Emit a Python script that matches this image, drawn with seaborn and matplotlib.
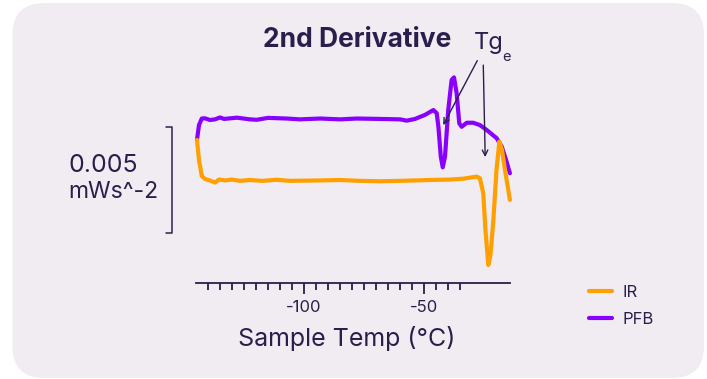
import numpy as np
import pandas as pd
import matplotlib
matplotlib.use("Agg")
import matplotlib.pyplot as plt
from matplotlib.patches import FancyBboxPatch
import seaborn as sns

# ---- data (temperature in °C, 2nd derivative in units of 1e-3 mWs^-2, traces offset) ----
ir_temp = [-144.6, -143.75, -142.6, -141.25, -139.2, -137.1, -135.4, -132.9, -130.0, -126.7,
           -122.5, -117.5, -111.4, -105.8, -93.3, -85.0, -76.7, -68.3, -60.0, -47.5,
           -39.2, -33.75, -28.0, -26.7, -25.3, -24.4, -23.2, -22.3, -21.1, -19.8,
           -18.6, -17.5, -16.25, -14.2]
ir_val = [1.89, 0.94, 0.19, 0.05, -0.02, -0.12, 0.02, -0.02, 0.02, -0.04,
          0.0, -0.04, 0.01, -0.04, -0.02, 0.0, -0.04, -0.06, -0.04, 0.0,
          0.02, 0.06, 0.16, 0.08, -0.63, -2.36, -4.01, -3.54, -1.89, 0.47,
          1.81, 1.42, 0.47, -0.94]

pfb_temp = [-144.6, -143.75, -142.6, -141.25, -139.2, -137.1, -135.0, -133.3, -128.0, -122.5,
            -119.7, -115.0, -107.2, -101.7, -93.3, -85.0, -78.0, -68.3, -60.0, -57.2,
            -53.75, -49.6, -46.1, -44.7, -44.0, -43.0, -42.2, -41.25, -39.9, -38.5,
            -37.5, -36.4, -35.3, -34.3, -32.2, -29.5, -26.7, -23.9, -19.7, -17.6,
            -15.8, -14.2]
pfb_val = [1.89, 2.59, 2.90, 2.91, 2.83, 2.86, 2.95, 2.88, 2.94, 2.86,
           2.84, 2.93, 2.90, 2.86, 2.90, 2.86, 2.90, 2.88, 2.86, 2.80,
           2.88, 3.07, 3.30, 3.15, 2.51, 1.10, 0.60, 1.10, 3.30, 4.72,
           4.84, 4.09, 2.67, 2.51, 2.70, 2.70, 2.59, 2.36, 1.97, 1.57,
           0.94, 0.32]

series_names = ["IR", "PFB"]
x_tick_major = [-100, -50]
x_tick_minor = list(range(-140, -34, 5))
scale_bar = 5.0  # 0.005 mWs^-2 expressed in 1e-3 units

ORANGE = "#FFA000"
PURPLE = "#8A00FF"
TEXT = "#2B1E4D"
BG = "#F0ECF2"

df = pd.concat([
    pd.DataFrame({"temp": ir_temp, "val": ir_val, "series": "IR"}),
    pd.DataFrame({"temp": pfb_temp, "val": pfb_val, "series": "PFB"}),
])

sns.set_theme(style="white")
plt.rcParams["font.family"] = ["Inter", "DejaVu Sans"]
plt.rcParams["axes.unicode_minus"] = False

W, H = 707, 379
fig = plt.figure(figsize=(W / 100, H / 100), dpi=100, facecolor="white")

def fx(px):
    return px / W

def fy(py):
    return 1 - py / H

bg = FancyBboxPatch((fx(12.5), fy(378)), fx(704) - fx(12.5), fy(3) - fy(378),
                    boxstyle="round,pad=0,rounding_size=0.045", transform=fig.transFigure,
                    facecolor=BG, edgecolor="none", zorder=-10, mutation_aspect=W / H)
fig.patches.append(bg)

x0, x1 = -145.0, -14.0
px_per_deg = 2.4
left_px = 196
right_px = left_px + (x1 - x0) * px_per_deg
top_px, bottom_px = 60, 283
ax = fig.add_axes([fx(left_px), fy(bottom_px), fx(right_px) - fx(left_px), fy(top_px) - fy(bottom_px)])
ax.set_facecolor("none")
ax.set_zorder(5)

palette = {"IR": ORANGE, "PFB": PURPLE}
sns.lineplot(data=df[df.series == "PFB"], x="temp", y="val", hue="series", palette=palette,
             linewidth=3.0, ax=ax, sort=False, legend=True)
sns.lineplot(data=df[df.series == "IR"], x="temp", y="val", hue="series", palette=palette,
             linewidth=3.0, ax=ax, sort=False, legend=True)
for ln in ax.lines:
    ln.set_solid_capstyle("round")
    ln.set_solid_joinstyle("round")
    ln.set_clip_on(False)

ax.set_xlim(x0, x1)
ax.set_ylim((180 - 283) * 0.04717, (180 - 60) * 0.04717)

for s in ["top", "right", "left"]:
    ax.spines[s].set_visible(False)
ax.spines["bottom"].set_color(TEXT)
ax.spines["bottom"].set_linewidth(1.3)
ax.set_yticks([])
ax.set_xticks(x_tick_major)
ax.set_xticklabels([str(v) for v in x_tick_major])
ax.set_xticks(x_tick_minor, minor=True)
ax.tick_params(axis="x", which="major", direction="out", length=8, width=1.3, color=TEXT,
               labelsize=12, labelcolor=TEXT, pad=4, bottom=True)
ax.tick_params(axis="x", which="minor", direction="out", length=5, width=1.3, color=TEXT, bottom=True)
ax.set_xlabel("Sample Temp (°C)", fontsize=18, color=TEXT)
ax.xaxis.set_label_coords(fx(347 - left_px) / fx(right_px - left_px), -0.195)
ax.set_ylabel("")

# scale bar
sb_x = -155.1
sb_tick = -157.5
ax.plot([sb_tick, sb_x, sb_x, sb_tick], [scale_bar / 2, scale_bar / 2, -scale_bar / 2, -scale_bar / 2],
        color=TEXT, lw=1.1, clip_on=False)
fig.text(fx(68), fy(166), "0.005", fontsize=18, color=TEXT, ha="left", va="center")
fig.text(fx(68), fy(192), "mWs^-2", fontsize=16.5, color=TEXT, ha="left", va="center")

# title and annotation
fig.text(fx(357.5), fy(40), "2nd Derivative", fontsize=19, fontweight="bold", color=TEXT,
         ha="center", va="center")
fig.text(fx(474), fy(43), "Tg", fontsize=17, color=TEXT, ha="left", va="center")
fig.text(fx(502), fy(57), "e", fontsize=10.5, color=TEXT, ha="left", va="center")

arrow_kw = dict(arrowstyle="->", color=TEXT, lw=1.0, mutation_scale=10, shrinkA=0, shrinkB=0)
ax.annotate("", xy=(-42.0, 2.59), xytext=(-27.8, 5.63), arrowprops=arrow_kw, annotation_clip=False)
ax.annotate("", xy=(-24.5, 1.08), xytext=(-25.3, 5.42), arrowprops=arrow_kw, annotation_clip=False)

# legend
handles, labels = ax.get_legend_handles_labels()
hmap = dict(zip(labels, handles))
ax.legend([hmap[n] for n in series_names], series_names, loc="center left",
          bbox_to_anchor=(fx(574), fy(306)), bbox_transform=fig.transFigure, frameon=False,
          fontsize=12, labelcolor=TEXT, handlelength=1.4, handletextpad=0.6, labelspacing=0.75)

fig.savefig("out.png", dpi=100, facecolor="white")
